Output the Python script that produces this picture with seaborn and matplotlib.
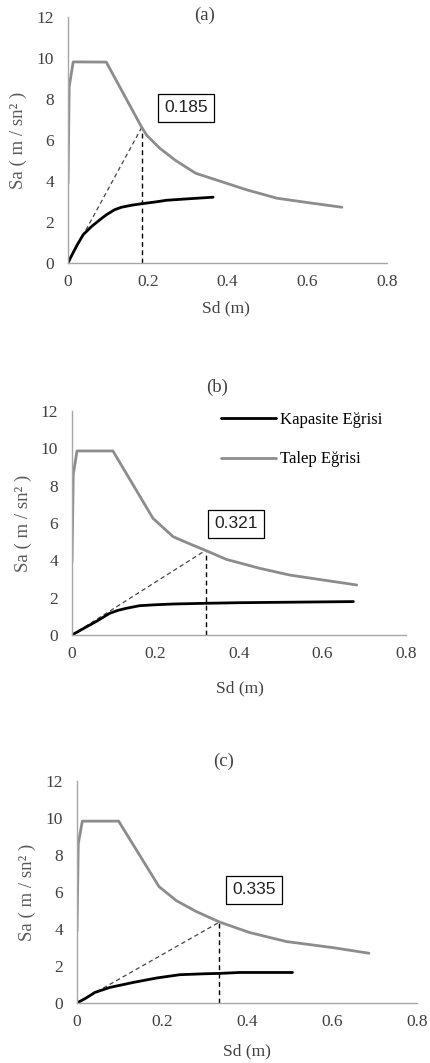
import numpy as np
import pandas as pd
import matplotlib
matplotlib.use("Agg")
import matplotlib.pyplot as plt
import seaborn as sns

# ---------------- data ----------------
panel_titles = ["(a)", "(b)", "(c)"]

demand_sd_a = [0.0, 0.003, 0.013, 0.096, 0.184, 0.197, 0.23, 0.27, 0.32, 0.38, 0.448, 0.524, 0.60, 0.687]
demand_sa_a = [3.9, 8.6, 9.81, 9.8, 6.65, 6.24, 5.6, 5.0, 4.38, 4.0, 3.57, 3.16, 2.95, 2.72]

demand_sd_b = [0.0, 0.003, 0.012, 0.098, 0.194, 0.242, 0.28, 0.318, 0.37, 0.45, 0.522, 0.60, 0.682]
demand_sa_b = [3.93, 8.6, 9.86, 9.86, 6.25, 5.27, 4.9, 4.55, 4.05, 3.57, 3.21, 2.95, 2.68]

demand_sd_c = [0.0, 0.003, 0.0125, 0.098, 0.193, 0.234, 0.28, 0.336, 0.406, 0.493, 0.60, 0.687]
demand_sa_c = [3.9, 8.6, 9.83, 9.83, 6.29, 5.53, 4.95, 4.37, 3.81, 3.32, 3.0, 2.69]

cap_sd_a = [0.0, 0.008, 0.021, 0.038, 0.059, 0.08, 0.096, 0.117, 0.134, 0.16, 0.184, 0.22, 0.247, 0.30, 0.364]
cap_sa_a = [0.0, 0.32, 0.81, 1.38, 1.78, 2.11, 2.35, 2.6, 2.72, 2.82, 2.89, 2.98, 3.06, 3.13, 3.21]

cap_sd_b = [0.0, 0.03, 0.06, 0.09, 0.11, 0.13, 0.162, 0.20, 0.242, 0.322, 0.40, 0.49, 0.674]
cap_sa_b = [0.0, 0.38, 0.75, 1.16, 1.32, 1.43, 1.57, 1.62, 1.66, 1.70, 1.73, 1.75, 1.79]

cap_sd_c = [0.0, 0.02, 0.042, 0.077, 0.132, 0.187, 0.242, 0.30, 0.336, 0.383, 0.45, 0.507]
cap_sa_c = [0.0, 0.25, 0.57, 0.84, 1.11, 1.35, 1.53, 1.58, 1.60, 1.65, 1.65, 1.65]

perf_sd = [0.185, 0.321, 0.335]
perf_sa = [6.62, 4.55, 4.37]
perf_labels = ["0.185", "0.321", "0.335"]

x_ticks = [0, 0.2, 0.4, 0.6, 0.8]
x_tick_labels = ["0", "0.2", "0.4", "0.6", "0.8"]
y_ticks = [0, 2, 4, 6, 8, 10, 12]

series_names = ["Kapasite Eğrisi", "Talep Eğrisi"]
x_label = "Sd (m)"
y_label = "Sa ( m / sn² )"

# ---------------- style ----------------
sns.set_style("white")
plt.rcParams['font.family'] = ['Liberation Serif', 'DejaVu Serif']

W, H = 430, 1063
fig = plt.figure(figsize=(W / 100, H / 100), dpi=100)

# axes rectangles in pixels: left, top, right, bottom
ax_px = [(68, 17, 387, 263), (72, 411, 406, 635), (77, 781, 417, 1003)]
title_px = [(205, 15), (217, 387), (224, 761)]
xlabel_px = [(226, 308), (240, 688), (247, 1051)]
ylabel_px = [(18, 140), (23, 523), (27, 892)]
box_px = [(186, 108), (236, 524), (254, 890)]

demand_sd = [demand_sd_a, demand_sd_b, demand_sd_c]
demand_sa = [demand_sa_a, demand_sa_b, demand_sa_c]
cap_sd = [cap_sd_a, cap_sd_b, cap_sd_c]
cap_sa = [cap_sa_a, cap_sa_b, cap_sa_c]

gray = "#8c8c8c"
spine_c = "#a6a6a6"
text_c = "#404040"

for i in range(3):
    l, t, r, b = ax_px[i]
    ax = fig.add_axes([l / W, 1 - b / H, (r - l) / W, (b - t) / H])
    dfc = pd.DataFrame({"Sd": cap_sd[i], "Sa": cap_sa[i]})
    dfd = pd.DataFrame({"Sd": demand_sd[i], "Sa": demand_sa[i]})
    sns.lineplot(data=dfc, x="Sd", y="Sa", ax=ax, color="black", lw=2.0,
                 sort=False, estimator=None, label=series_names[0])
    sns.lineplot(data=dfd, x="Sd", y="Sa", ax=ax, color=gray, lw=2.0,
                 sort=False, estimator=None, label=series_names[1])
    # dashed construction lines
    ax.plot([0, perf_sd[i]], [0, perf_sa[i]], color="#444444", lw=0.9,
            dashes=(3.5, 2.5), zorder=1)
    ax.plot([perf_sd[i], perf_sd[i]], [0, perf_sa[i]], color="black", lw=1.0,
            dashes=(3.5, 2.5), zorder=1)

    ax.set_xlim(0, 0.8)
    ax.set_ylim(0, 12)
    ax.set_xticks(x_ticks)
    ax.set_xticklabels(x_tick_labels)
    ax.set_yticks(y_ticks)
    ax.tick_params(axis="both", length=0, labelsize=12.5, colors=text_c)
    ax.tick_params(axis="x", pad=8)
    ax.tick_params(axis="y", pad=10)
    for s in ["top", "right"]:
        ax.spines[s].set_visible(False)
    for s in ["left", "bottom"]:
        ax.spines[s].set_color(spine_c)
        ax.spines[s].set_linewidth(1.0)
    ax.set_xlabel("")
    ax.set_ylabel("")
    ax.patch.set_alpha(0)

    if i == 1:
        ax.legend(loc="upper left", bbox_to_anchor=(0.445, 0.995), frameon=False,
                  fontsize=12, handlelength=3.3, handletextpad=0.25,
                  labelspacing=1.4, borderpad=0, borderaxespad=0,
                  labelcolor="black")
    else:
        lg = ax.get_legend()
        if lg is not None:
            lg.remove()

    bx, by = box_px[i]
    fig.text(bx / W, 1 - by / H, perf_labels[i], ha="center", va="center",
             fontsize=12.5, family=["Liberation Sans", "DejaVu Sans"], color="#222222",
             bbox=dict(boxstyle="square,pad=0.38", fc="white", ec="black", lw=0.9))

    tx, ty = title_px[i]
    fig.text(tx / W, 1 - ty / H, panel_titles[i], ha="center", va="center",
             fontsize=13.5, color=text_c)
    xx, xy = xlabel_px[i]
    fig.text(xx / W, 1 - xy / H, x_label, ha="center", va="center",
             fontsize=12.5, color=text_c)
    yx, yy = ylabel_px[i]
    fig.text(yx / W, 1 - yy / H, y_label, ha="center", va="center",
             rotation=90, fontsize=13.5, color="#595959")

fig.savefig("out.png", dpi=100)
